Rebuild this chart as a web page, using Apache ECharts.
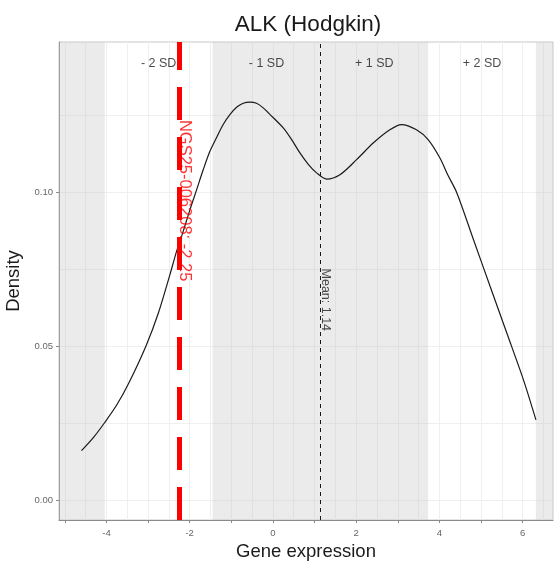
<!DOCTYPE html>
<html>
<head>
<meta charset="utf-8">
<script src="https://cdn.jsdelivr.net/npm/echarts@6/dist/echarts.min.js"></script>
<style>html,body{margin:0;padding:0;background:#fff;}#c{width:554px;height:561px;}</style>
</head>
<body>
<div id="c"></div>
<script>
// ---- data ----
const curveX = [-4.60, -4.30, -4.05, -3.75, -3.45, -3.05, -2.75, -2.476, -2.315, -2.156, -1.995, -1.834, -1.675, -1.514, -1.353, -1.195, -1.034, -0.873, -0.714, -0.553, -0.392, -0.233, -0.072, 0.248, 0.45, 0.649, 0.85, 1.05, 1.29, 1.61, 2.01, 2.41, 2.81, 3.09, 3.45, 3.73, 4.01, 4.20, 4.42, 4.82, 5.22, 5.62, 6.02, 6.32];
const curveY = [0.0160, 0.0205, 0.0250, 0.0309, 0.0383, 0.0500, 0.0608, 0.0731, 0.0807, 0.0872, 0.0942, 0.1007, 0.1072, 0.1132, 0.1177, 0.1219, 0.1251, 0.1275, 0.1288, 0.1292, 0.1288, 0.1273, 0.1252, 0.1208, 0.1170, 0.1127, 0.1090, 0.1062, 0.1042, 0.1056, 0.1105, 0.1159, 0.1202, 0.1219, 0.1202, 0.1170, 0.1111, 0.1056, 0.0997, 0.0845, 0.0693, 0.0542, 0.0390, 0.0260];
const meanValue = 1.14;
const sdValue = 2.59;
const sampleValue = -2.25;
const sampleName = 'NGS25-006208';
const sdLabels = ['- 2 SD', '- 1 SD', '+ 1 SD', '+ 2 SD'];
const sdLabelMultipliers = [-1.5, -0.5, 0.5, 1.5];
const sdLabelY = 0.1417;
const sampleLabelY = 0.0972;
const meanLabelY = 0.065;
const xTickValues = [-5, -4, -3, -2, -1, 0, 1, 2, 3, 4, 5, 6];
const xLabelValues = [-4, -2, 0, 2, 4, 6];
const xGridValues = [-5, -4.5, -4, -3.5, -3, -2.5, -2, -1.5, -1, -0.5, 0, 0.5, 1, 1.5, 2, 2.5, 3, 3.5, 4, 4.5, 5, 5.5, 6, 6.5];
const yTickValues = [0, 0.05, 0.10];
const yGridValues = [0, 0.025, 0.05, 0.075, 0.10, 0.125];
const XMIN = -5.14, XMAX = 6.73;
const YMIN = -0.0065, YMAX = 0.1487;

const FONT = '"Liberation Sans", Arial, Helvetica, sans-serif';
const curveData = curveX.map((x, i) => [x, curveY[i]]);
const bandColor = 'rgba(198,198,198,0.35)';
const bands = [
  [XMIN, meanValue - 2 * sdValue],
  [meanValue - sdValue, meanValue + sdValue],
  [meanValue + 2 * sdValue, XMAX]
];
const sdLabelData = sdLabels.map((n, i) => ({ name: n, value: [meanValue + sdLabelMultipliers[i] * sdValue, sdLabelY] }));

const chart = echarts.init(document.getElementById('c'), null, { renderer: 'canvas' });
chart.setOption({
  animation: false,
  backgroundColor: '#ffffff',
  title: {
    text: 'ALK (Hodgkin)',
    left: 303, top: 8, textAlign: 'center',
    textStyle: { fontFamily: FONT, fontSize: 22.5, fontWeight: 'normal', color: '#1a1a1a' }
  },
  grid: { left: 59, top: 42, right: 1, bottom: 41, show: true, borderColor: '#c8c8c8', borderWidth: 1, backgroundColor: 'transparent', outerBoundsMode: 'none', containLabel: false },
  xAxis: [
    {
      type: 'value', min: XMIN, max: XMAX, position: 'bottom',
      axisLine: { show: false, onZero: false },
      axisTick: { show: false, customValues: xGridValues },
      axisLabel: { show: false },
      splitLine: { show: true, lineStyle: { color: '#efefef', width: 1 } }
    },
    {
      type: 'value', min: XMIN, max: XMAX, position: 'bottom', offset: 0,
      axisLine: { show: true, onZero: false, lineStyle: { color: '#8a8a8a', width: 1 } },
      axisTick: { show: true, customValues: xTickValues, length: 3, lineStyle: { color: '#8a8a8a' } },
      axisLabel: { show: true, customValues: xLabelValues, margin: 8, fontFamily: FONT, fontSize: 9.5, color: '#666' },
      splitLine: { show: false },
      name: 'Gene expression', nameLocation: 'middle', nameGap: 21,
      nameTextStyle: { fontFamily: FONT, fontSize: 18.5, color: '#1a1a1a' }
    }
  ],
  yAxis: [
    {
      type: 'value', min: YMIN, max: YMAX, position: 'left',
      axisLine: { show: false, onZero: false },
      axisTick: { show: false, customValues: yGridValues },
      axisLabel: { show: false },
      splitLine: { show: true, lineStyle: { color: '#efefef', width: 1 } }
    },
    {
      type: 'value', min: YMIN, max: YMAX, position: 'left', offset: 0,
      axisLine: { show: true, onZero: false, lineStyle: { color: '#8a8a8a', width: 1 } },
      axisTick: { show: true, customValues: yTickValues, length: 3, lineStyle: { color: '#8a8a8a' } },
      axisLabel: { show: true, customValues: yTickValues, margin: 6, fontFamily: FONT, fontSize: 9.5, color: '#666', formatter: v => v.toFixed(2) },
      splitLine: { show: false },
      name: 'Density', nameLocation: 'middle', nameGap: 32, nameRotate: 90,
      nameTextStyle: { fontFamily: FONT, fontSize: 18.5, color: '#1a1a1a' }
    }
  ],
  series: [
    {
      type: 'line', xAxisIndex: 0, yAxisIndex: 0, data: [], silent: true, z: 1,
      markArea: {
        silent: true,
        itemStyle: { color: bandColor },
        data: bands.map(b => [{ xAxis: b[0] }, { xAxis: b[1] }])
      }
    },
    {
      type: 'line', xAxisIndex: 0, yAxisIndex: 0, data: curveData, smooth: 0.3,
      showSymbol: false, silent: true, z: 3,
      lineStyle: { color: '#1a1a1a', width: 1.2 },
      markLine: {
        silent: true, symbol: 'none', label: { show: false },
        data: [
          { xAxis: meanValue, lineStyle: { color: '#1a1a1a', width: 1, type: [4, 4] } },
          { xAxis: sampleValue, lineStyle: { color: '#ff0000', width: 5, type: [33, 17] } }
        ]
      }
    },
    {
      type: 'scatter', xAxisIndex: 0, yAxisIndex: 0, symbolSize: 0, silent: true, z: 4,
      data: sdLabelData,
      label: { show: true, position: 'inside', formatter: p => p.name, fontFamily: FONT, fontSize: 12.5, color: '#1a1a1a' }
    },
    {
      type: 'scatter', xAxisIndex: 0, yAxisIndex: 0, symbolSize: 0, silent: true, z: 5,
      data: [{ name: sampleName + ': ' + sampleValue.toFixed(2), value: [sampleValue, sampleLabelY] }],
      label: { show: true, position: 'inside', rotate: -90, offset: [0, -5], formatter: p => p.name, fontFamily: FONT, fontSize: 16.5, color: '#ff0000' }
    },
    {
      type: 'scatter', xAxisIndex: 0, yAxisIndex: 0, symbolSize: 0, silent: true, z: 5,
      data: [{ name: 'Mean: ' + meanValue.toFixed(2), value: [meanValue, meanLabelY] }],
      label: { show: true, position: 'inside', rotate: -90, offset: [0, -5], formatter: p => p.name, fontFamily: FONT, fontSize: 12.5, color: '#1a1a1a' }
    }
  ]
});
</script>
</body>
</html>
